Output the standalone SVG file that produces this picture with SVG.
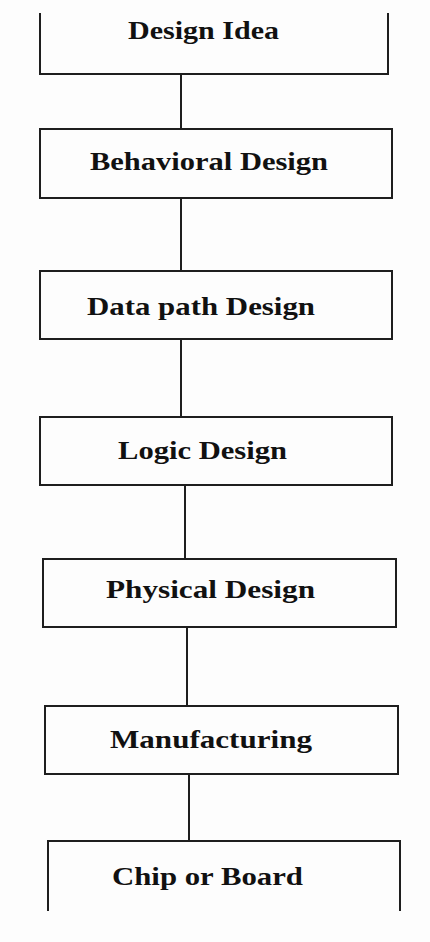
<svg xmlns="http://www.w3.org/2000/svg" width="430" height="942" viewBox="0 0 430 942">
  <style>
    .box { fill: none; stroke: #1e1e1e; stroke-width: 2; }
    .link { fill: none; stroke: #1e1e1e; stroke-width: 2; }
    .label { font-family: "Liberation Serif", "Times New Roman", serif; font-weight: bold; font-size: 25px; fill: #111; }
  </style>
  <rect width="430" height="942" fill="#fdfdfd"/>

  <!-- design flow connectors -->
  <g id="connectors">
    <line class="link" x1="181" y1="74" x2="181" y2="129"/>
    <line class="link" x1="181" y1="198" x2="181" y2="271"/>
    <line class="link" x1="181" y1="339" x2="181" y2="417"/>
    <line class="link" x1="185" y1="485" x2="185" y2="559"/>
    <line class="link" x1="187" y1="627" x2="187" y2="706"/>
    <line class="link" x1="189" y1="774" x2="189" y2="841"/>
  </g>

  <!-- top stage: open at the top -->
  <g id="design-idea">
    <path class="box" d="M40 13 V74 H388 V13"/>
    <text class="label" x="128" y="39" textLength="151" lengthAdjust="spacingAndGlyphs">Design Idea</text>
  </g>

  <g id="behavioral-design">
    <rect class="box" x="40" y="129" width="352" height="69"/>
    <text class="label" x="90" y="170" textLength="238" lengthAdjust="spacingAndGlyphs">Behavioral Design</text>
  </g>

  <g id="data-path-design">
    <rect class="box" x="40" y="271" width="352" height="68"/>
    <text class="label" x="87" y="315" textLength="228" lengthAdjust="spacingAndGlyphs">Data path Design</text>
  </g>

  <g id="logic-design">
    <rect class="box" x="40" y="417" width="352" height="68"/>
    <text class="label" x="118" y="459" textLength="169" lengthAdjust="spacingAndGlyphs">Logic Design</text>
  </g>

  <g id="physical-design">
    <rect class="box" x="43" y="559" width="353" height="68"/>
    <text class="label" x="106" y="598" textLength="209" lengthAdjust="spacingAndGlyphs">Physical Design</text>
  </g>

  <g id="manufacturing">
    <rect class="box" x="45" y="706" width="353" height="68"/>
    <text class="label" x="110" y="748" textLength="202" lengthAdjust="spacingAndGlyphs">Manufacturing</text>
  </g>

  <!-- final stage: open at the bottom -->
  <g id="chip-or-board">
    <path class="box" d="M48 911 V841 H400 V911"/>
    <text class="label" x="112" y="885" textLength="191" lengthAdjust="spacingAndGlyphs">Chip or Board</text>
  </g>
</svg>
